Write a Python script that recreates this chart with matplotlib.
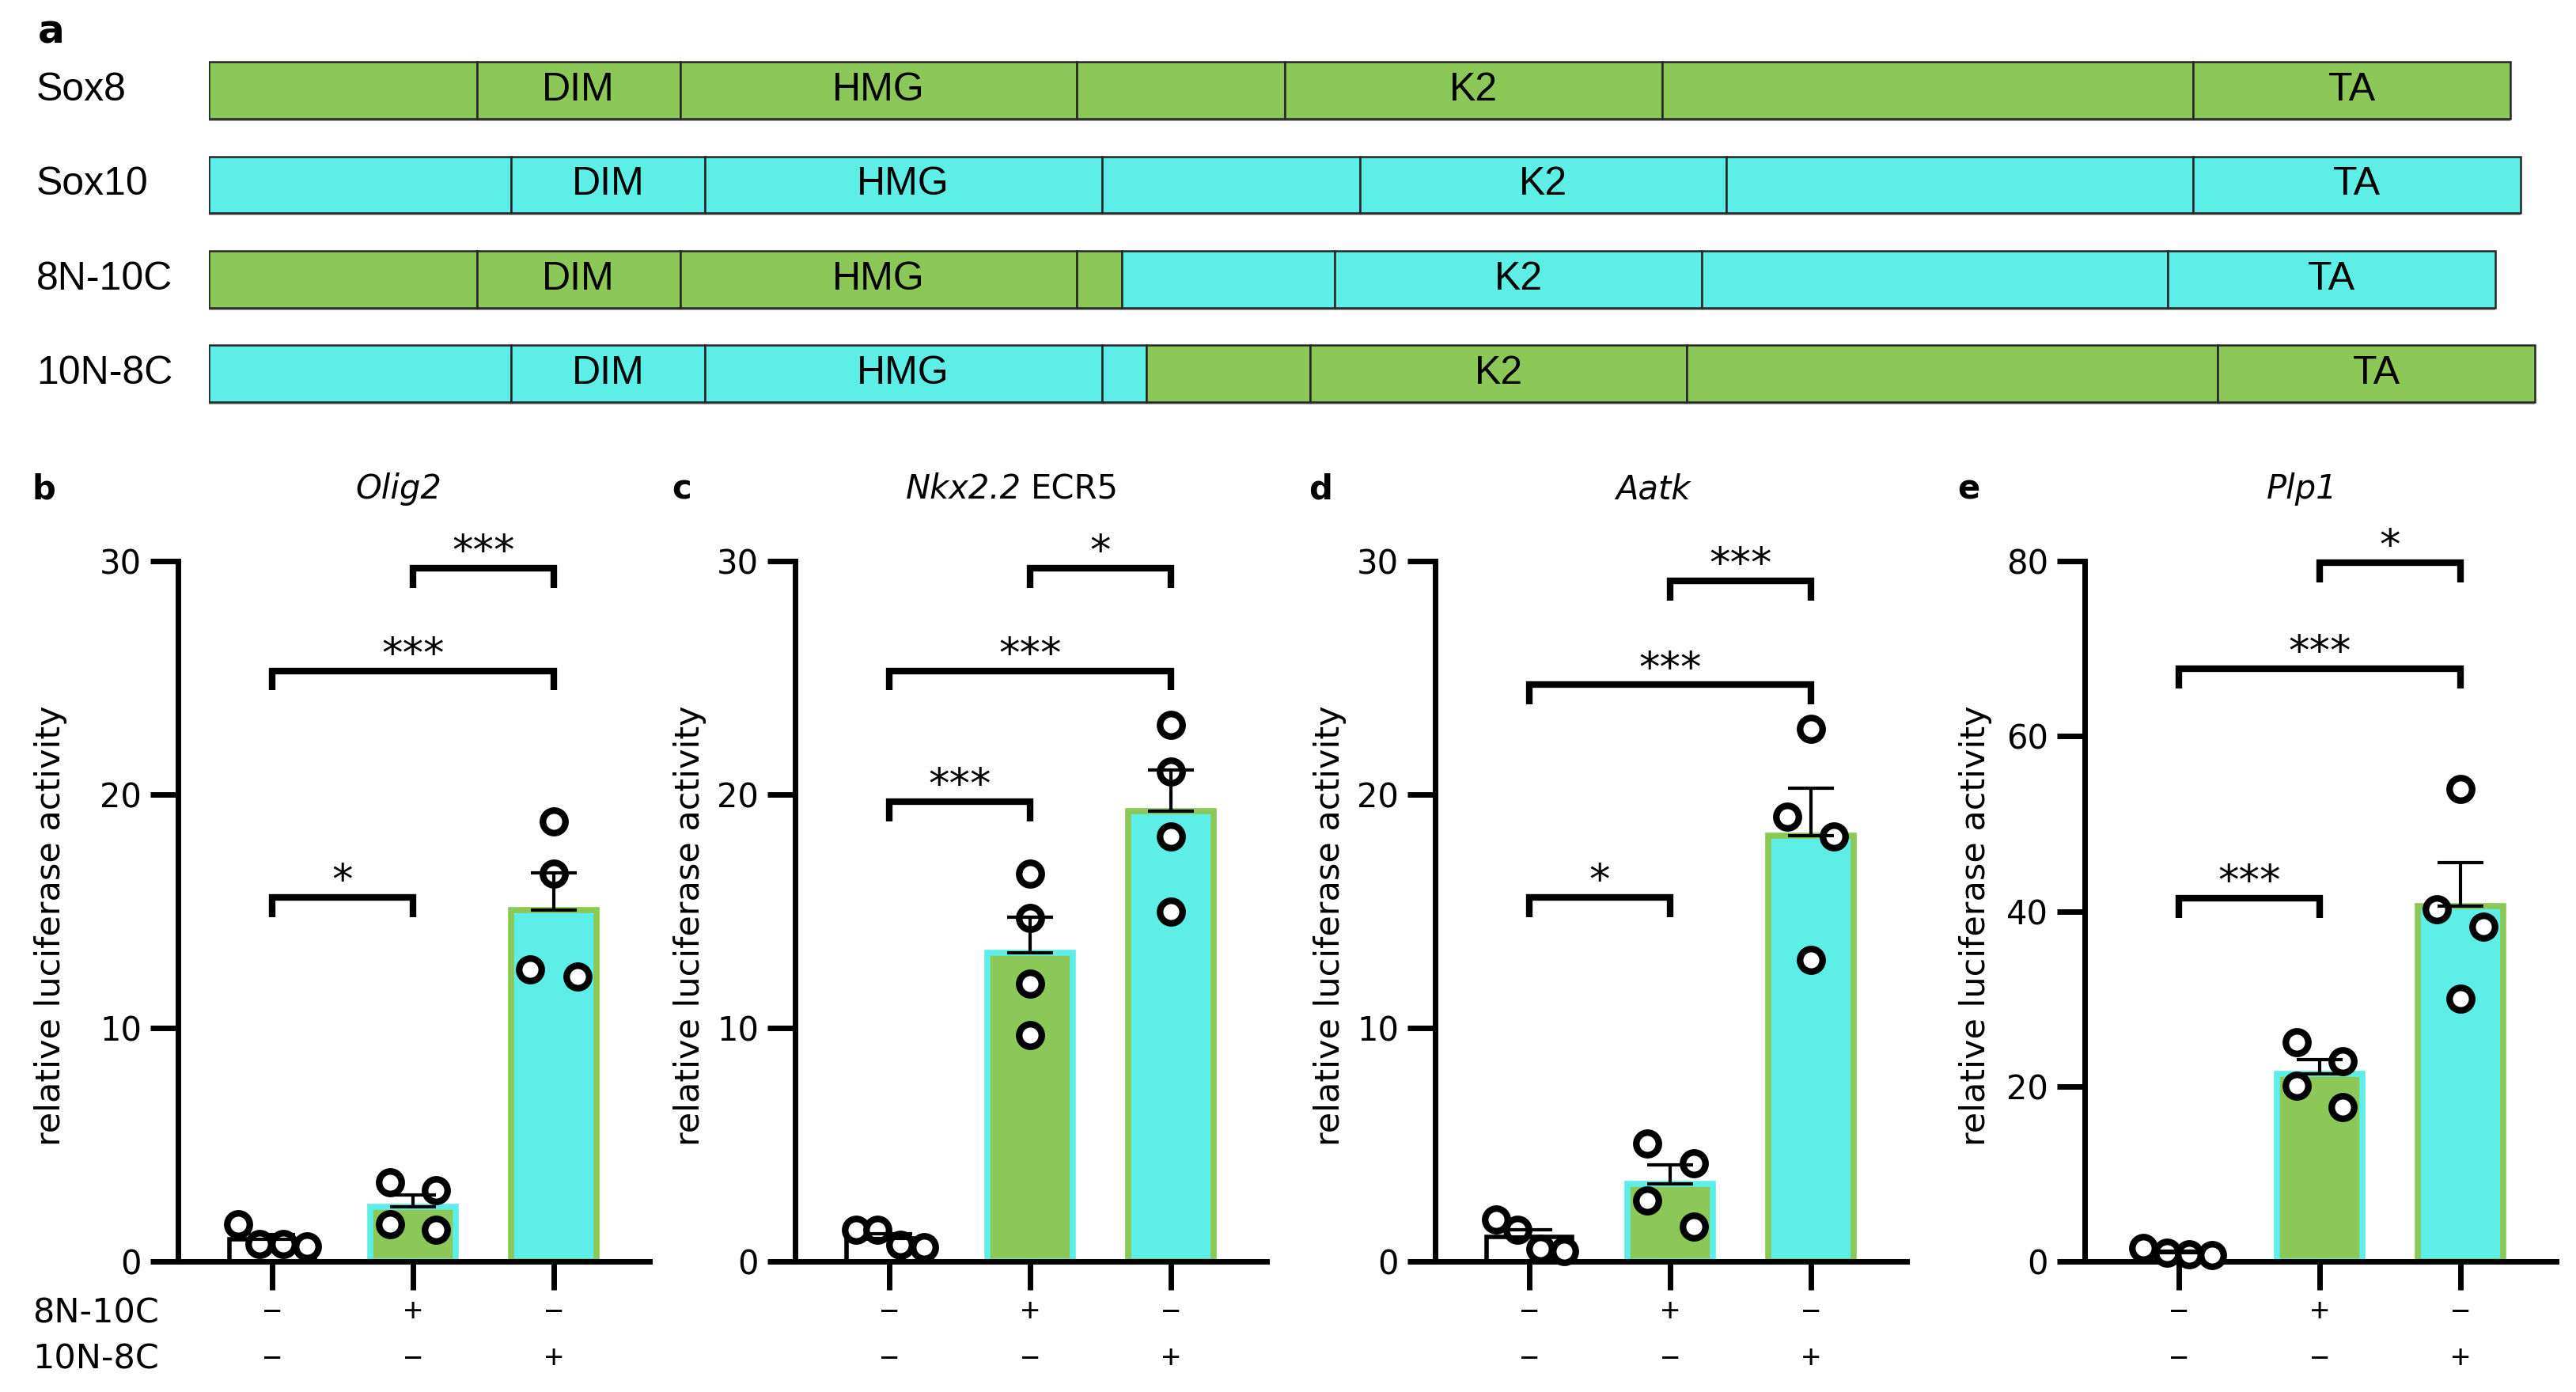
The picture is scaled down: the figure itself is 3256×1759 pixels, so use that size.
import numpy as np
import matplotlib.pyplot as plt
from matplotlib.patches import Rectangle
from matplotlib.transforms import blended_transform_factory

plt.rcParams['font.family'] = 'DejaVu Sans'

GREEN = '#8bc858'
CYAN = '#5deee8'

# panel a: domain boundaries along the protein (aa)
constructs = ['Sox8', 'Sox10', '8N-10C', '10N-8C']
domain_labels = ['', 'DIM', 'HMG', '', 'K2', '', 'TA']
sox8_bounds = [0, 54, 95, 175, 217, 293, 400, 464]
sox10_bounds = [0, 61, 100, 180, 232, 306, 400, 466]
sox8_junction = 184
sox10_junction = 189

# panels b-e: luciferase values, 4 replicates per condition
# title = (italic gene name, plain suffix)
reporters = [('Olig2', ''), ('Nkx2.2', 'ECR5'), ('Aatk', ''), ('Plp1', '')]
panel_letters = ['b', 'c', 'd', 'e']
row_8n10c = ['\u2212', '+', '\u2212']
row_10n8c = ['\u2212', '\u2212', '+']

olig2 = [[1.6, 0.75, 0.75, 0.65], [3.4, 3.05, 1.6, 1.35], [18.85, 16.6, 12.5, 12.2]]
nkx22 = [[1.35, 1.35, 0.7, 0.6], [16.6, 14.7, 11.9, 9.7], [23.0, 21.0, 18.2, 15.0]]
aatk = [[1.8, 1.36, 0.54, 0.44], [5.05, 4.2, 2.6, 1.5], [22.8, 19.05, 18.2, 12.9]]
plp1 = [[1.5, 1.0, 0.8, 0.7], [25.0, 22.9, 20.1, 17.6], [54.0, 40.2, 38.2, 30.0]]

# horizontal spread of the dots inside each bar
olig2_offsets = [[-0.245, -0.09, 0.076, 0.245], [-0.165, 0.165, -0.165, 0.165], [0, 0, -0.168, 0.168]]
nkx22_offsets = [[-0.236, -0.083, 0.077, 0.248], [0, 0, 0, 0], [0, 0, 0, 0]]
aatk_offsets = [[-0.236, -0.083, 0.077, 0.248], [-0.165, 0.17, -0.165, 0.17], [0, -0.168, 0.162, 0]]
plp1_offsets = [[-0.255, -0.086, 0.074, 0.237], [-0.165, 0.165, -0.165, 0.165], [0, -0.17, 0.166, 0]]

# significance: (group1, group2, height, label)
olig2_sig = [(0, 1, 15.6, '*'), (0, 2, 25.3, '***'), (1, 2, 29.7, '***')]
nkx22_sig = [(0, 1, 19.7, '***'), (0, 2, 25.3, '***'), (1, 2, 29.7, '*')]
aatk_sig = [(0, 1, 15.6, '*'), (0, 2, 24.7, '***'), (1, 2, 29.15, '***')]
plp1_sig = [(0, 1, 41.5, '***'), (0, 2, 67.7, '***'), (1, 2, 79.8, '*')]

ymaxes = [30, 30, 30, 80]
yticks = [[0, 10, 20, 30], [0, 10, 20, 30], [0, 10, 20, 30], [0, 20, 40, 60, 80]]


def segments(bounds, color, lo, hi, shift):
    segs = []
    for s, e, lab in zip(bounds[:-1], bounds[1:], domain_labels):
        s2, e2 = max(s, lo), min(e, hi)
        if e2 > s2:
            segs.append((s2 + shift, e2 + shift, color, lab))
    return segs


fig = plt.figure(figsize=(32.56, 17.59), dpi=100)

# ---- panel a ----
rows = [
    segments(sox8_bounds, GREEN, 0, 464, 0),
    segments(sox10_bounds, CYAN, 0, 466, 0),
    segments(sox8_bounds, GREEN, 0, sox8_junction, 0)
    + segments(sox10_bounds, CYAN, sox10_junction, 466, sox8_junction - sox10_junction),
    segments(sox10_bounds, CYAN, 0, sox10_junction, 0)
    + segments(sox8_bounds, GREEN, sox8_junction, 464, sox10_junction - sox8_junction),
]

axa = fig.add_axes([264 / 3256, 0.6977, 0.905, 0.2714])
axa.set_xlim(0, 470)
axa.set_ylim(3.5, -0.5)
axa.axis('off')
for i, segs in enumerate(rows):
    for s, e, color, lab in segs:
        axa.add_patch(Rectangle((s, i - 0.3 + 0.025), e - s, 0.6, facecolor='#9a9a9a',
                                edgecolor='none', zorder=1))
        axa.add_patch(Rectangle((s, i - 0.3), e - s, 0.6, facecolor=color,
                                edgecolor='#262626', lw=1.8, zorder=2))
        if lab:
            axa.text((s + e) / 2, i, lab, ha='center', va='center', fontsize=36,
                     family='Liberation Sans', zorder=3)
    axa.text(-34.8, i, constructs[i], ha='left', va='center', fontsize=36,
             family='Liberation Sans', clip_on=False)

fig.text(48 / 3256, 0.9693, 'a', fontsize=36, fontweight='bold', va='baseline')

# ---- panels b-e ----
all_values = [olig2, nkx22, aatk, plp1]
all_offsets = [olig2_offsets, nkx22_offsets, aatk_offsets, plp1_offsets]
all_sig = [olig2_sig, nkx22_sig, aatk_sig, plp1_sig]
lefts = [225 / 3256, 1005 / 3256, 1814 / 3256, 2635 / 3256]
letter_x = [-0.309, -0.262, -0.268, -0.270]
title_x = [0.468, 0.48, 0.463, 0.461]
ylabel_x = [-0.270, -0.223, -0.223, -0.232]
faces = ['white', GREEN, CYAN]
edges = ['black', CYAN, GREEN]
edge_w = [4, 5.5, 5.5]

for k in range(4):
    ax = fig.add_axes([lefts[k], 0.0938, 0.183, 0.5031])
    values = all_values[k]
    means = [np.mean(v) for v in values]
    sems = [np.std(v, ddof=1) / np.sqrt(len(v)) for v in values]

    for i in range(3):
        ax.bar(i, means[i], 0.61, color=faces[i], edgecolor=edges[i], lw=edge_w[i], zorder=1)
        ax.plot(i + np.array(all_offsets[k][i]), values[i], 'o', ms=20.5, mfc='white',
                mec='black', mew=6, zorder=3, clip_on=False)
    ax.errorbar(range(3), means, yerr=[np.zeros(3), sems], fmt='none', ecolor='black',
                elinewidth=3, capsize=21, capthick=3, zorder=4, clip_on=False)

    ymax = ymaxes[k]
    leg = ymax * 0.028
    for g1, g2, h, lab in all_sig[k]:
        ax.plot([g1, g1, g2, g2], [h - leg, h, h, h - leg], color='black', lw=6,
                solid_joinstyle='miter', solid_capstyle='butt', clip_on=False)
        ax.annotate(lab, xy=((g1 + g2) / 2, h), xytext=(0, 3.5), textcoords='offset points',
                    ha='center', va='baseline', fontsize=38)

    ax.set_xlim(-0.67, 2.68)
    ax.set_ylim(0, ymax)
    ax.set_yticks(yticks[k])
    ax.set_xticks([0, 1, 2])
    ax.spines[['top', 'right']].set_visible(False)
    ax.spines[['left', 'bottom']].set_linewidth(5)
    ax.tick_params(axis='y', length=25, width=5, labelsize=30, pad=8)
    ax.tick_params(axis='x', length=26, width=5, labelbottom=False)

    ax.text(ylabel_x[k], 0.479, 'relative luciferase activity', rotation=90,
            ha='center', va='center', fontsize=31, transform=ax.transAxes)

    gene, suffix = reporters[k]
    if suffix:
        ax.text(title_x[k], 1.089, gene, ha='right', va='baseline', fontsize=30,
                style='italic', transform=ax.transAxes)
        ax.text(title_x[k] + 0.02, 1.089, suffix, ha='left', va='baseline', fontsize=30,
                transform=ax.transAxes)
    else:
        ax.text(title_x[k], 1.089, gene, ha='center', va='baseline', fontsize=30,
                style='italic', transform=ax.transAxes)
    ax.text(letter_x[k], 1.089, panel_letters[k], ha='left', va='baseline', fontsize=30,
            fontweight='bold', transform=ax.transAxes)

    trans = blended_transform_factory(ax.transData, ax.transAxes)
    for i in range(3):
        ax.text(i, -0.086, row_8n10c[i], ha='center', va='baseline', fontsize=30,
                family='Liberation Sans', transform=trans)
        ax.text(i, -0.152, row_10n8c[i], ha='center', va='baseline', fontsize=30,
                family='Liberation Sans', transform=trans)

fig.text(41 / 3256, 1 - 1672 / 1759, '8N-10C', fontsize=31, va='baseline')
fig.text(41 / 3256, 1 - 1730 / 1759, '10N-8C', fontsize=31, va='baseline')

fig.savefig('out.png', dpi=100)
